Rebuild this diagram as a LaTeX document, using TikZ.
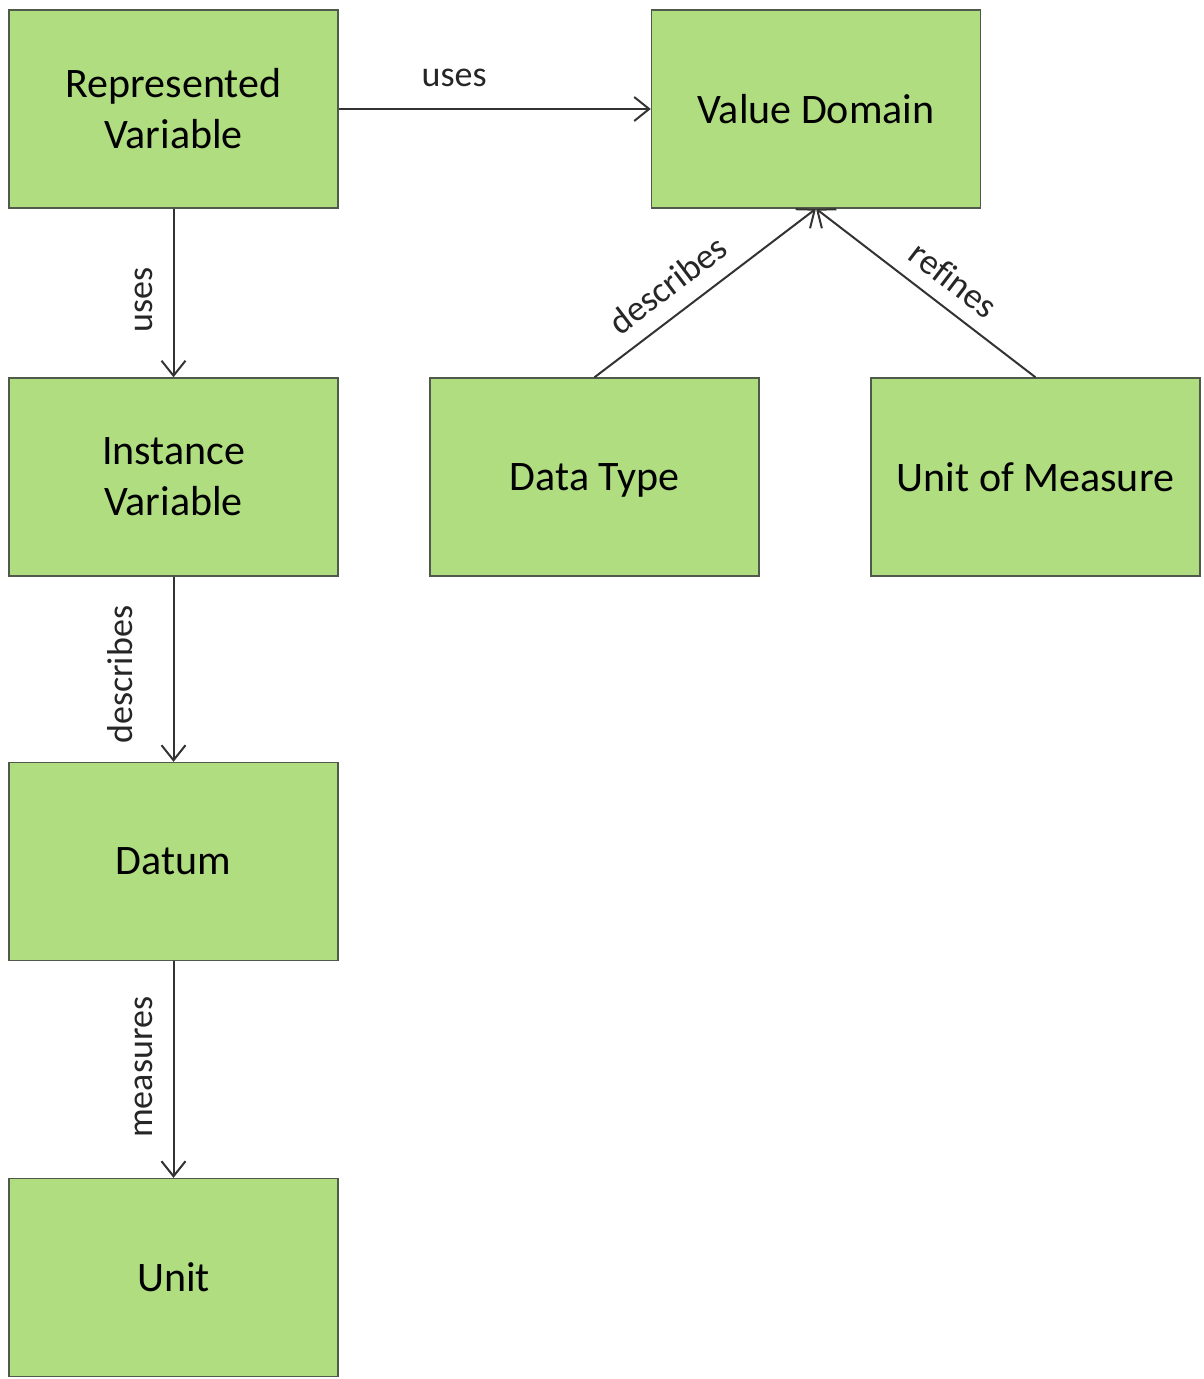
\documentclass[tikz,border=0pt]{standalone}
\usepackage{fontspec}
\setmainfont{Carlito}[Ligatures=NoCommon]
\usetikzlibrary{arrows.meta}
\definecolor{boxgreen}{RGB}{176,221,128}
\definecolor{boxline}{RGB}{80,90,75}
\tikzstyle{entity} = [rectangle, minimum width=329pt, minimum height=198pt, inner sep=0pt, align=center, text centered, fill=boxgreen, draw=boxline, line width=1.4pt, font=\fontsize{42}{51}\selectfont]
\tikzstyle{arrow} = [line width=2pt, color=black!80, -{Straight Barb[length=15pt,width=24pt,line width=2pt]}]
\tikzstyle{rel} = [font=\fontsize{36}{40}\selectfont, text=black!85, inner xsep=0pt, anchor=south]

\begin{document}
\begin{tikzpicture}[x=1pt,y=-1pt]
            \useasboundingbox (0,0) rectangle (1204,1379);
            \node [entity] at (173.5,109) (repvar) {Represented\\Variable};
            \node [entity] at (816,109) (valdom) {Value Domain};
            \node [entity] at (173.5,477) (instvar) {Instance\\Variable};
            \node [entity, text depth=0pt] at (594.5,477) (dtype) {Data Type};
            \node [entity] at (1035.5,477) (uom) {Unit of Measure};
            \node [entity] at (173.5,861.5) (datum) {Datum};
            \node [entity] at (173.5,1277.5) (unit) {Unit};

            \draw [arrow] (repvar) -- node[rel, pos=0.37, inner ysep=21pt] {uses} (valdom);
            \draw [arrow] (repvar) -- node[rel, pos=0.54, rotate=90, inner ysep=20pt] {uses} (instvar);
            \draw [arrow] (instvar) -- node[rel, pos=0.53, rotate=90, inner ysep=40pt] {describes} (datum);
            \draw [arrow] (datum) -- node[rel, pos=0.49, rotate=90, inner ysep=20pt] {measures} (unit);
            \draw [arrow] (dtype.north) -- node[rel, pos=0.41, sloped, inner ysep=16pt] {describes} (valdom.south);
            \draw [arrow] (uom.north) -- node[rel, pos=0.45, sloped, inner ysep=14pt] {refines} (valdom.south);
\end{tikzpicture}
\end{document}
